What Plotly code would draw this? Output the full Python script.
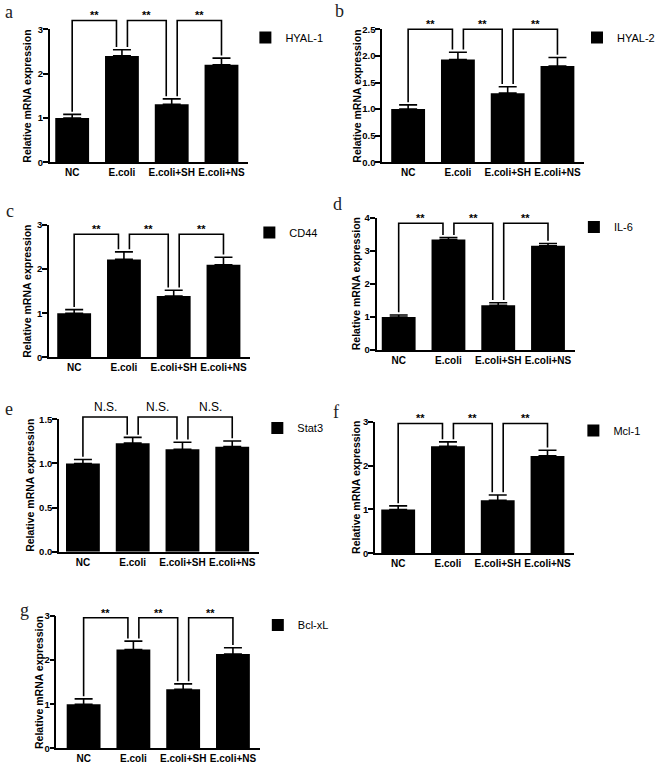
import plotly.graph_objects as go

# ---------------- data ----------------
categories = ["NC", "E.coli", "E.coli+SH", "E.coli+NS"]
genes = ["HYAL-1", "HYAL-2", "CD44", "IL-6", "Stat3", "Mcl-1", "Bcl-xL"]
panel_letters = ["a", "b", "c", "d", "e", "f", "g"]
y_title = "Relative mRNA expression"

hyal1_mean = [1.0, 2.40, 1.31, 2.20]
hyal1_sem = [0.08, 0.14, 0.12, 0.15]
hyal2_mean = [1.0, 1.93, 1.30, 1.81]
hyal2_sem = [0.08, 0.14, 0.12, 0.16]
cd44_mean = [1.0, 2.22, 1.39, 2.10]
cd44_sem = [0.08, 0.17, 0.13, 0.17]
il6_mean = [1.0, 3.34, 1.35, 3.15]
il6_sem = [0.06, 0.06, 0.08, 0.07]
stat3_mean = [1.0, 1.23, 1.16, 1.19]
stat3_sem = [0.045, 0.065, 0.08, 0.065]
mcl1_mean = [1.0, 2.44, 1.21, 2.22]
mcl1_sem = [0.08, 0.10, 0.12, 0.13]
bclxl_mean = [1.0, 2.24, 1.34, 2.14]
bclxl_sem = [0.12, 0.19, 0.12, 0.14]

hyal1_sig = ["**", "**", "**"]
hyal2_sig = ["**", "**", "**"]
cd44_sig = ["**", "**", "**"]
il6_sig = ["**", "**", "**"]
stat3_sig = ["N.S.", "N.S.", "N.S."]
mcl1_sig = ["**", "**", "**"]
bclxl_sig = ["**", "**", "**"]

y_max = [3, 2.5, 3, 4, 1.5, 3, 3]
y_dtick = [1, 0.5, 1, 1, 0.5, 1, 1]
y_tickformat = ["", ".1f", "", "", ".1f", "", ""]
bracket_level = [3.2, 2.5, 2.79, 3.83, 1.526, 2.96, 2.96]

means = [hyal1_mean, hyal2_mean, cd44_mean, il6_mean, stat3_mean, mcl1_mean, bclxl_mean]
sems = [hyal1_sem, hyal2_sem, cd44_sem, il6_sem, stat3_sem, mcl1_sem, bclxl_sem]
sigs = [hyal1_sig, hyal2_sig, cd44_sig, il6_sig, stat3_sig, mcl1_sig, bclxl_sig]

# ---------------- layout geometry (pixels) ----------------
W, H = 660, 764
SPACING = 50.0     # px between bar centres
geom = [
    dict(L=50.0, c0=72.5, top=29.3, bot=162.3, tx=27.0, lab=(3, 12.5), leg=(266.5, 37.5)),
    dict(L=384.0, c0=410.0, top=29.3, bot=162.3, tx=358.5, lab=(335, 11), leg=(600, 37.5)),
    dict(L=49.3, c0=74.5, top=225.0, bot=357.3, tx=27.7, lab=(4, 211), leg=(270.5, 232.5)),
    dict(L=378.3, c0=400.5, top=217.7, bot=350.0, tx=357.0, lab=(333, 203.5), leg=(596.5, 227)),
    dict(L=59.3, c0=83.3, top=419.3, bot=551.7, tx=29.5, lab=(3, 409), leg=(278.5, 428)),
    dict(L=376.7, c0=400.0, top=421.7, bot=553.3, tx=357.0, lab=(333, 411.5), leg=(596, 430.5)),
    dict(L=56.7, c0=84.0, top=616.0, bot=748.3, tx=39.0, lab=(18, 610), leg=(279, 625)),
]
EXT = 28.0          # px of extra room above each panel for brackets
LEG_OFF = 0.11
SANS = "Liberation Sans, Arial, sans-serif"
SERIF = "Liberation Serif, Times New Roman, serif"

fig = go.Figure()
layout = dict(
    width=W, height=H, margin=dict(l=0, r=0, t=0, b=0),
    paper_bgcolor="white", plot_bgcolor="rgba(0,0,0,0)",
    template="none", hovermode=False,
)
annotations = []

for i in range(7):
    g = geom[i]
    n = i + 1
    sfx = "" if n == 1 else str(n)
    xa, ya = "x" + sfx, "y" + sfx
    on = n + 7
    oxa, oya = f"x{on}", f"y{on}"
    leg_id = "legend" + sfx

    L = g["L"]
    R = g["c0"] + 3 * SPACING + 27
    lo = -(g["c0"] - L) / SPACING
    hi = (R - g["c0"]) / SPACING
    ydom = [1 - g["bot"] / H, 1 - g["top"] / H]
    span_px = g["bot"] - g["top"]
    ext = min(EXT, g["top"])
    ymx = y_max[i]

    xs = list(range(len(categories)))
    fig.add_trace(go.Bar(
        x=xs, y=means[i], width=0.68, name=genes[i],
        marker=dict(color="black", line=dict(width=0)),
        error_y=dict(type="data", symmetric=False, array=sems[i],
                     arrayminus=[0] * 4, color="black", thickness=1.6, width=9),
        xaxis=xa, yaxis=ya, legend=leg_id, showlegend=True,
    ))

    # significance brackets (drawn on an invisible overlay axis with the same scale)
    tops = [m + s for m, s in zip(means[i], sems[i])]
    gap = 0.02 * ymx
    lvl = bracket_level[i]
    bx, by = [], []
    for k in range(3):
        x0 = k + (0 if k == 0 else LEG_OFF)
        x1 = k + 1 - (0 if k + 1 == 3 else LEG_OFF)
        bx += [x0, x0, x1, x1, None]
        by += [tops[k] + gap, lvl, lvl, tops[k + 1] + gap, None]
        txt = sigs[i][k]
        is_ns = txt == "N.S."
        annotations.append(dict(
            text=txt, xref=oxa, yref=oya, x=(x0 + x1) / 2, y=lvl,
            xanchor="center", yanchor="bottom", showarrow=False,
            yshift=(1 if is_ns else -3),
            font=dict(family=SANS, size=(12 if is_ns else 11), color="black",
                      weight=("normal" if is_ns else "bold")),
        ))
    fig.add_trace(go.Scatter(
        x=bx, y=by, mode="lines", line=dict(color="black", width=1.6),
        xaxis=oxa, yaxis=oya, showlegend=False, hoverinfo="skip",
    ))

    layout["xaxis" + sfx] = dict(
        domain=[L / W, R / W], range=[lo, hi], anchor=ya,
        tickmode="array", tickvals=xs, ticktext=categories,
        showline=True, linecolor="black", linewidth=1.6, ticks="",
        ticklabelstandoff=0,
        tickfont=dict(family=SANS, size=10, color="black", weight="bold"),
        showgrid=False, zeroline=False, fixedrange=True,
    )
    layout["yaxis" + sfx] = dict(
        domain=ydom, range=[0, ymx], anchor=xa,
        tick0=0, dtick=y_dtick[i], tickformat=y_tickformat[i],
        showline=True, linecolor="black", linewidth=1.6,
        ticks="outside", ticklen=5, tickwidth=1.6, tickcolor="black",
        ticklabelstandoff=-2,
        tickfont=dict(family=SANS, size=9.5, color="black", weight="bold"),
        showgrid=False, zeroline=False, fixedrange=True,
    )
    layout[f"xaxis{on}"] = dict(domain=[L / W, R / W], range=[lo, hi], anchor=oya,
                                visible=False, fixedrange=True)
    layout[f"yaxis{on}"] = dict(
        domain=[ydom[0], min(1.0, 1 - (g["top"] - ext) / H)],
        range=[0, ymx * (span_px + ext) / span_px], anchor=oxa,
        visible=False, fixedrange=True)

    layout[leg_id] = dict(
        x=(g["leg"][0] - 20) / W, y=1 - g["leg"][1] / H,
        xanchor="left", yanchor="middle", bgcolor="rgba(0,0,0,0)",
        borderwidth=0, itemwidth=30,
        font=dict(family=SANS, size=11, color="black"),
    )

    # y-axis title
    annotations.append(dict(
        text=y_title, xref="paper", yref="paper",
        x=g["tx"] / W, y=1 - (g["top"] + g["bot"]) / 2 / H,
        xanchor="center", yanchor="middle", textangle=-90, showarrow=False,
        font=dict(family=SANS, size=10.5, color="black", weight="bold"),
    ))
    # panel letter
    annotations.append(dict(
        text=panel_letters[i], xref="paper", yref="paper",
        x=g["lab"][0] / W, y=1 - g["lab"][1] / H,
        xanchor="left", yanchor="middle", showarrow=False,
        font=dict(family=SERIF, size=18, color="#222222"),
    ))

layout["annotations"] = annotations
fig.update_layout(**layout)
fig.write_html(
    "out.html",
    config={"displayModeBar": False},
    post_script="document.body.style.margin='0';document.body.style.overflow='hidden';",
)
